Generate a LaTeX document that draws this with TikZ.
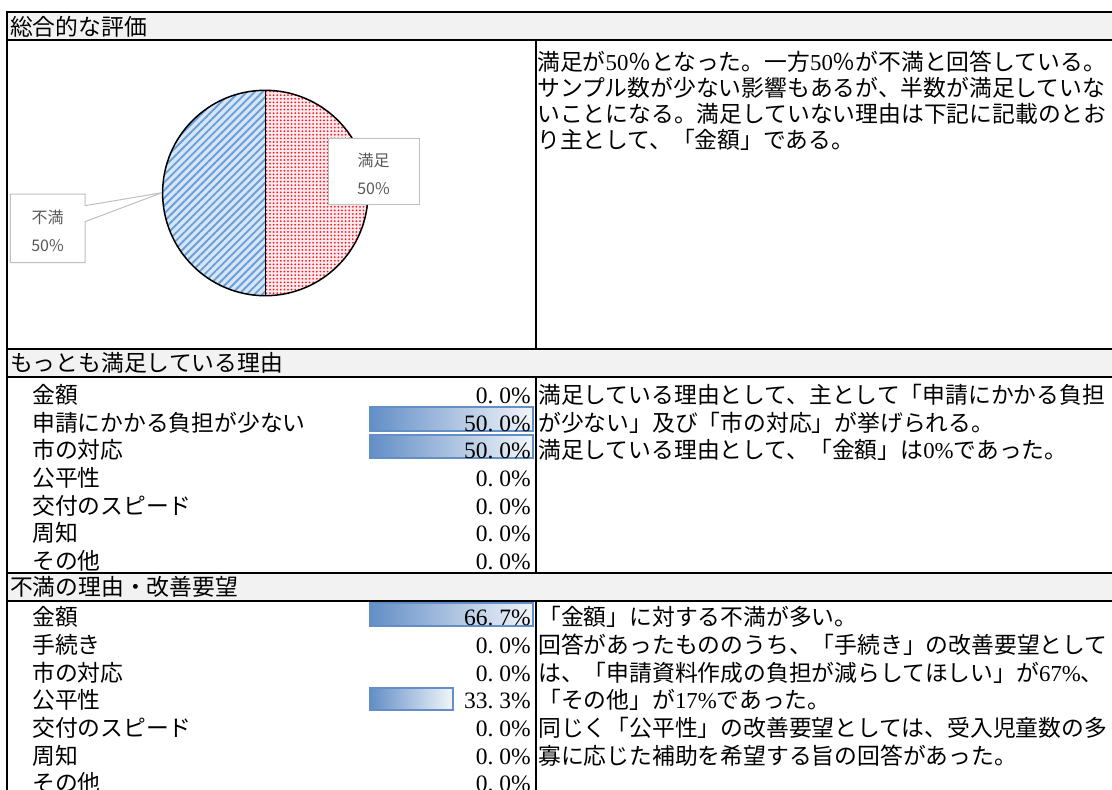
\documentclass[tikz,border=0pt]{standalone}
\usepackage{fontspec}
\setmainfont{Liberation Serif}
\newfontfamily\jp{Noto Sans CJK JP}
\usetikzlibrary{patterns.meta}
\definecolor{titlegray}{HTML}{F2F2F2}
\definecolor{barblue}{HTML}{638EC6}
\definecolor{lblgray}{HTML}{595959}
\definecolor{lblborder}{HTML}{BFBFBF}
\definecolor{pieblue}{HTML}{D6E6F6}
\definecolor{stripeblue}{HTML}{6A9ED6}
\definecolor{piepink}{HTML}{FBEAF0}
\definecolor{dotred}{HTML}{FF1A1A}
\newcommand{\pct}[2]{#1\makebox[0.5em][l]{.}#2\%}
\tikzset{
  jpt/.style={font=\jp\fontsize{22.8pt}{26pt}\selectfont, inner sep=0pt, text height=20pt, text depth=2.8pt, anchor=west},
  pctt/.style={font=\fontsize{23.5pt}{26pt}\selectfont, inner sep=0pt, text height=20pt, text depth=2.8pt, anchor=east},
  databar/.style={draw=barblue, line width=1.2pt, left color=barblue, right color=barblue!8},
  rule/.style={line width=2pt, black},
  lbl/.style={font=\jp\fontsize{16pt}{18pt}\selectfont, text=lblgray, inner sep=0pt}
}
\begin{document}
\begin{tikzpicture}[x=1pt, y=-1pt]
\useasboundingbox (0,0) rectangle (1112,790);
\fill[white] (0,0) rectangle (1112,790);
% title rows
\fill[titlegray] (7,12) rectangle (1112,40);
\fill[titlegray] (7,349) rectangle (1112,377);
\fill[titlegray] (7,573) rectangle (1112,601);
% pie
\coordinate (pc) at (265.3,193);
\fill[pieblue] (265.3,90.3) arc[start angle=90, end angle=270, radius=102.7pt] -- cycle;
\fill[pattern={Lines[angle=45, distance=5.5pt, line width=1.9pt]}, pattern color=stripeblue] (265.3,90.3) arc[start angle=90, end angle=270, radius=102.7pt] -- cycle;
\fill[piepink] (265.3,90.3) arc[start angle=90, end angle=-90, radius=102.7pt] -- cycle;
\fill[pattern={Dots[radius=1pt, distance=3.6pt]}, pattern color=dotred] (265.3,90.3) arc[start angle=90, end angle=-90, radius=102.7pt] -- cycle;
\draw[line width=1.5pt] (pc) circle[radius=102.7pt];
\draw[line width=1.5pt] (265.3,90.3) -- (265.3,295.7);
% labels
\node[draw=lblborder, fill=white, line width=1pt, minimum width=91pt, minimum height=66pt, inner sep=0pt] (satbox) at (373.5,171) {};
\node[lbl] (satt) at (373.5,160.7) {満足};
\node[lbl] (satv) at (373.5,189) {50\%};
\draw[lblborder, fill=white, line width=1pt] (10.3,194) -- (85,194) -- (85,205.7) -- (162,192.7) -- (85,221.7) -- (85,262.7) -- (10.3,262.7) -- cycle;
\node[lbl] (dist) at (47.5,217) {不満};
\node[lbl] (disv) at (47.5,245.7) {50\%};
% titles
\node[jpt] (t1) at (10,26.5) {総合的な評価};
\node[jpt] (t2) at (10,363) {もっとも満足している理由};
\node[jpt] (t3) at (10,587) {不満の理由・改善要望};
% chart text
\node[jpt] (c1) at (537,62) {満足が{\rmfamily 50}％となった。一方{\rmfamily 50}％が不満と回答している。};
\node[jpt] (c2) at (537,88) {サンプル数が少ない影響もあるが、半数が満足していな};
\node[jpt] (c3) at (537,114) {いことになる。満足していない理由は下記に記載のとお};
\node[jpt] (c4) at (537,140) {り主として、「金額」である。};
% section 2 bars
\path[databar] (370,407) rectangle (533,431);
\path[databar] (370,435) rectangle (533,458);
\foreach \lab/\val [count=\i from 0] in {金額/\pct{0}{0}, 申請にかかる負担が少ない/\pct{50}{0}, 市の対応/\pct{50}{0}, 公平性/\pct{0}{0}, 交付のスピード/\pct{0}{0}, 周知/\pct{0}{0}, その他/\pct{0}{0}} {
  \node[jpt] (sa\i) at (32,395+27.6*\i) {\lab};
  \node[pctt] (sav\i) at (531,395+27.6*\i) {\val};
}
\node[jpt] (r1) at (538,395) {満足している理由として、主として「申請にかかる負担};
\node[jpt] (r2) at (538,422.6) {が少ない」及び「市の対応」が挙げられる。};
\node[jpt] (r3) at (538,450.2) {満足している理由として、「金額」は{\rmfamily 0\%}であった。};
% section 3 bars
\path[databar] (370,603) rectangle (533,626);
\path[databar] (370,688) rectangle (453,710);
\foreach \lab/\val [count=\i from 0] in {金額/\pct{66}{7}, 手続き/\pct{0}{0}, 市の対応/\pct{0}{0}, 公平性/\pct{33}{3}, 交付のスピード/\pct{0}{0}, 周知/\pct{0}{0}, その他/\pct{0}{0}} {
  \node[jpt] (sb\i) at (32,617+27.7*\i) {\lab};
  \node[pctt] (sbv\i) at (531,617+27.7*\i) {\val};
}
\node[jpt] (q1) at (538,617) {「金額」に対する不満が多い。};
\node[jpt] (q2) at (538,644.7) {回答があったもののうち、「手続き」の改善要望として};
\node[jpt] (q3) at (538,672.4) {は、「申請資料作成の負担が減らしてほしい」が{\rmfamily 67\%}、};
\node[jpt] (q4) at (538,700.1) {「その他」が{\rmfamily 17\%}であった。};
\node[jpt] (q5) at (538,727.8) {同じく「公平性」の改善要望としては、受入児童数の多};
\node[jpt] (q6) at (538,755.5) {寡に応じた補助を希望する旨の回答があった。};
% borders
\draw[rule] (7,790) -- (7,12) -- (1112,12);
\foreach \yy in {40,349,377,573,601} { \draw[rule] (7,\yy) -- (1112,\yy); }
\draw[rule] (536,40) -- (536,349);
\draw[rule] (536,377) -- (536,573);
\draw[rule] (536,601) -- (536,790);
\end{tikzpicture}
\end{document}
